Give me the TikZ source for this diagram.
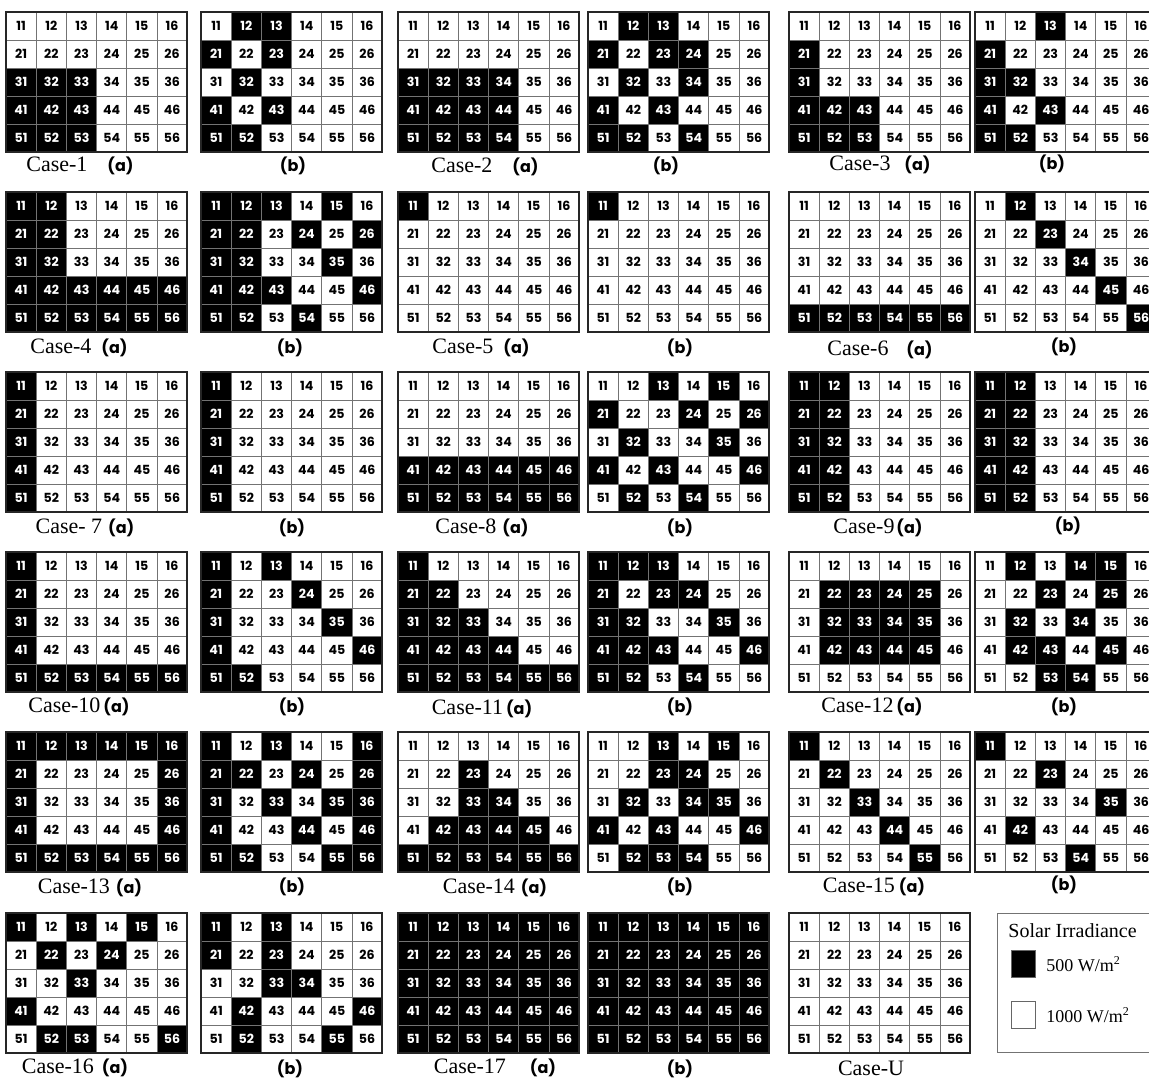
\documentclass[tikz,border=0pt]{standalone}
\usepackage{fontspec}
\setmainfont{Liberation Serif}
\newfontfamily\numfont{Poppins}

\tikzset{
  cellnum/.style={font=\numfont\bfseries\fontsize{6.3}{7}\selectfont, inner sep=0pt},
  cellline/.style={black!55, line width=0.5pt},
  arrayedge/.style={black!85, line width=0.9pt},
  caselab/.style={font=\fontsize{11}{13}\selectfont, inner sep=0pt},
  legbox/.style={draw=black!60, line width=0.5pt, minimum width=12pt, minimum height=13.5pt, inner sep=0pt},
}
\newcommand{\ab}[1]{{\numfont\bfseries\fontsize{8}{10}\selectfont(#1)}}
\def\cw{30.2}
\def\ch{28}

% one module: name, left, top, shaded cells
\newcommand{\pvarray}[4]{%
  \begin{scope}[shift={(#2,#3)}]
    \if\relax\detokenize{#4}\relax\else
    \foreach \s in {#4} {
      \pgfmathtruncatemacro{\hr}{\s/10}
      \pgfmathtruncatemacro{\hc}{\s-10*\hr}
      \fill[black] ({(\hc-1)*\cw},{(\hr-1)*\ch}) rectangle ++(\cw,\ch);
      \expandafter\gdef\csname dk#1\s\endcsname{}
    }
    \fi
    \foreach \k in {1,...,5} \draw[cellline] ({\k*\cw},0) -- ++(0,{5*\ch});
    \foreach \k in {1,...,4} \draw[cellline] (0,{\k*\ch}) -- ++({6*\cw},0);
    \draw[arrayedge] (0,0) rectangle ({6*\cw},{5*\ch});
    \foreach \ri in {1,...,5}
      \foreach \ci in {1,...,6} {
        \ifcsname dk#1\ri\ci\endcsname \def\tc{white}\else\def\tc{black}\fi
        \node[cellnum,text=\tc] (g#1-\ri\ci) at ({(\ci-0.5)*\cw},{(\ri-0.5)*\ch}) {\ri\ci};
      }
  \end{scope}}

\begin{document}
\begin{tikzpicture}[x=0.5pt,y=-0.5pt]
  \clip (0,0) rectangle (1149,1078);
  \fill[white] (0,0) rectangle (1149,1078);

  % row 1
  \pvarray{1a}{6}{12}{31,32,33,41,42,43,51,52,53}
  \pvarray{1b}{201}{12}{12,13,21,23,32,41,43,51,52}
  \pvarray{2a}{398}{12}{31,32,33,34,41,42,43,44,51,52,53,54}
  \pvarray{2b}{588}{12}{12,13,21,23,24,32,34,41,43,51,52,54}
  \pvarray{3a}{789}{12}{21,31,41,42,43,51,52,53}
  \pvarray{3b}{975}{12}{13,21,31,32,41,43,51,52}
  \node[caselab] (lab1a) at (80,166) {Case-1\hspace{10pt}\ab{a}};
  \node[caselab] (lab1b) at (293,166) {\ab{b}};
  \node[caselab] (lab2a) at (485,167) {Case-2\hspace{10pt}\ab{a}};
  \node[caselab] (lab2b) at (666,166) {\ab{b}};
  \node[caselab] (lab3a) at (880,165) {Case-3\hspace{7pt}\ab{a}};
  \node[caselab] (lab3b) at (1052,164) {\ab{b}};

  % row 2
  \pvarray{4a}{6}{192}{11,12,21,22,31,32,41,42,43,44,45,46,51,52,53,54,55,56}
  \pvarray{4b}{201}{192}{11,12,13,15,21,22,24,26,31,32,35,41,42,43,46,51,52,54}
  \pvarray{5a}{398}{192}{11}
  \pvarray{5b}{588}{192}{11}
  \pvarray{6a}{789}{192}{51,52,53,54,55,56}
  \pvarray{6b}{975}{192}{12,23,34,45,56}
  \node[caselab] (lab4a) at (79,348) {Case-4\hspace{5pt}\ab{a}};
  \node[caselab] (lab4b) at (290,348) {\ab{b}};
  \node[caselab] (lab5a) at (481,348) {Case-5\hspace{5pt}\ab{a}};
  \node[caselab] (lab5b) at (680,348) {\ab{b}};
  \node[caselab] (lab6a) at (880,350) {Case-6\hspace{9pt}\ab{a}};
  \node[caselab] (lab6b) at (1064,347) {\ab{b}};

  % row 3
  \pvarray{7a}{6}{372}{11,21,31,41,51}
  \pvarray{7b}{201}{372}{11,21,31,41,51}
  \pvarray{8a}{398}{372}{41,42,43,44,45,46,51,52,53,54,55,56}
  \pvarray{8b}{588}{372}{13,15,21,24,26,32,35,41,43,46,52,54}
  \pvarray{9a}{789}{372}{11,12,21,22,31,32,41,42,51,52}
  \pvarray{9b}{975}{372}{11,12,21,22,31,32,41,42,51,52}
  \node[caselab] (lab7a) at (85,528) {Case- 7\hspace{3pt}\ab{a}};
  \node[caselab] (lab7b) at (292,528) {\ab{b}};
  \node[caselab] (lab8a) at (482,528) {Case-8\hspace{3pt}\ab{a}};
  \node[caselab] (lab8b) at (680,528) {\ab{b}};
  \node[caselab] (lab9a) at (878,528) {Case-9\hspace{1pt}\ab{a}};
  \node[caselab] (lab9b) at (1068,526) {\ab{b}};

  % row 4
  \pvarray{10a}{6}{552}{11,21,31,41,51,52,53,54,55,56}
  \pvarray{10b}{201}{552}{11,13,21,24,31,35,41,46,51,52}
  \pvarray{11a}{398}{552}{11,21,22,31,32,33,41,42,43,44,51,52,53,54,55,56}
  \pvarray{11b}{588}{552}{11,12,13,21,23,24,31,32,35,41,42,43,46,51,52,54}
  \pvarray{12a}{789}{552}{22,23,24,25,32,33,34,35,42,43,44,45}
  \pvarray{12b}{975}{552}{12,14,15,23,25,32,34,42,43,45,53,54}
  \node[caselab] (lab10a) at (79,707) {Case-10\hspace{1.5pt}\ab{a}};
  \node[caselab] (lab10b) at (292,707) {\ab{b}};
  \node[caselab] (lab11a) at (482,709) {Case-11\hspace{1.5pt}\ab{a}};
  \node[caselab] (lab11b) at (680,707) {\ab{b}};
  \node[caselab] (lab12a) at (872,707) {Case-12\hspace{1.5pt}\ab{a}};
  \node[caselab] (lab12b) at (1064,707) {\ab{b}};

  % row 5
  \pvarray{13a}{6}{732}{11,12,13,14,15,16,21,26,31,36,41,46,51,52,53,54,55,56}
  \pvarray{13b}{201}{732}{11,13,16,21,22,24,26,31,33,35,36,41,44,46,51,52,55,56}
  \pvarray{14a}{398}{732}{23,33,34,42,43,44,45,51,52,53,54,55,56}
  \pvarray{14b}{588}{732}{13,15,23,24,32,34,35,41,43,46,52,53,54}
  \pvarray{15a}{789}{732}{11,22,33,44,55}
  \pvarray{15b}{975}{732}{11,23,35,42,54}
  \node[caselab] (lab13a) at (90,888) {Case-13\hspace{3pt}\ab{a}};
  \node[caselab] (lab13b) at (292,887) {\ab{b}};
  \node[caselab] (lab14a) at (495,888) {Case-14\hspace{3pt}\ab{a}};
  \node[caselab] (lab14b) at (680,887) {\ab{b}};
  \node[caselab] (lab15a) at (874,887) {Case-15\hspace{2pt}\ab{a}};
  \node[caselab] (lab15b) at (1064,885) {\ab{b}};

  % row 6
  \pvarray{16a}{6}{913}{11,13,15,22,24,33,41,52,53,56}
  \pvarray{16b}{201}{913}{11,13,21,23,33,34,42,46,52,55}
  \pvarray{17a}{398}{913}{11,12,13,14,15,16,21,22,23,24,25,26,31,32,33,34,35,36,41,42,43,44,45,46,51,52,53,54,55,56}
  \pvarray{17b}{588}{913}{11,12,13,14,15,16,21,22,23,24,25,26,31,32,33,34,35,36,41,42,43,44,45,46,51,52,53,54,55,56}
  \pvarray{U}{789}{913}{}
  \node[caselab] (lab16a) at (75,1068) {Case-16\hspace{4pt}\ab{a}};
  \node[caselab] (lab16b) at (290,1069) {\ab{b}};
  \node[caselab] (lab17a) at (495,1068) {Case-17\hspace{12pt}\ab{a}};
  \node[caselab] (lab17b) at (680,1069) {\ab{b}};
  \node[caselab] (labU) at (871,1068) {Case-U};

  % legend
  \draw[black!55, line width=0.5pt] (997,913) rectangle (1165,1052);
  \node[anchor=west, inner sep=0pt, font=\fontsize{10}{12}\selectfont] (legtitle) at (1008,931) {Solar Irradiance};
  \node[legbox, fill=black] (lowbox) at (1023,964) {};
  \node[legbox, fill=white] (highbox) at (1023,1015) {};
  \node[anchor=west, inner sep=0pt, font=\fontsize{9}{11}\selectfont] (lowtxt) at (1046,964) {500 W/m\textsuperscript{2}};
  \node[anchor=west, inner sep=0pt, font=\fontsize{9}{11}\selectfont] (hightxt) at (1046,1015) {1000 W/m\textsuperscript{2}};
\end{tikzpicture}
\end{document}
